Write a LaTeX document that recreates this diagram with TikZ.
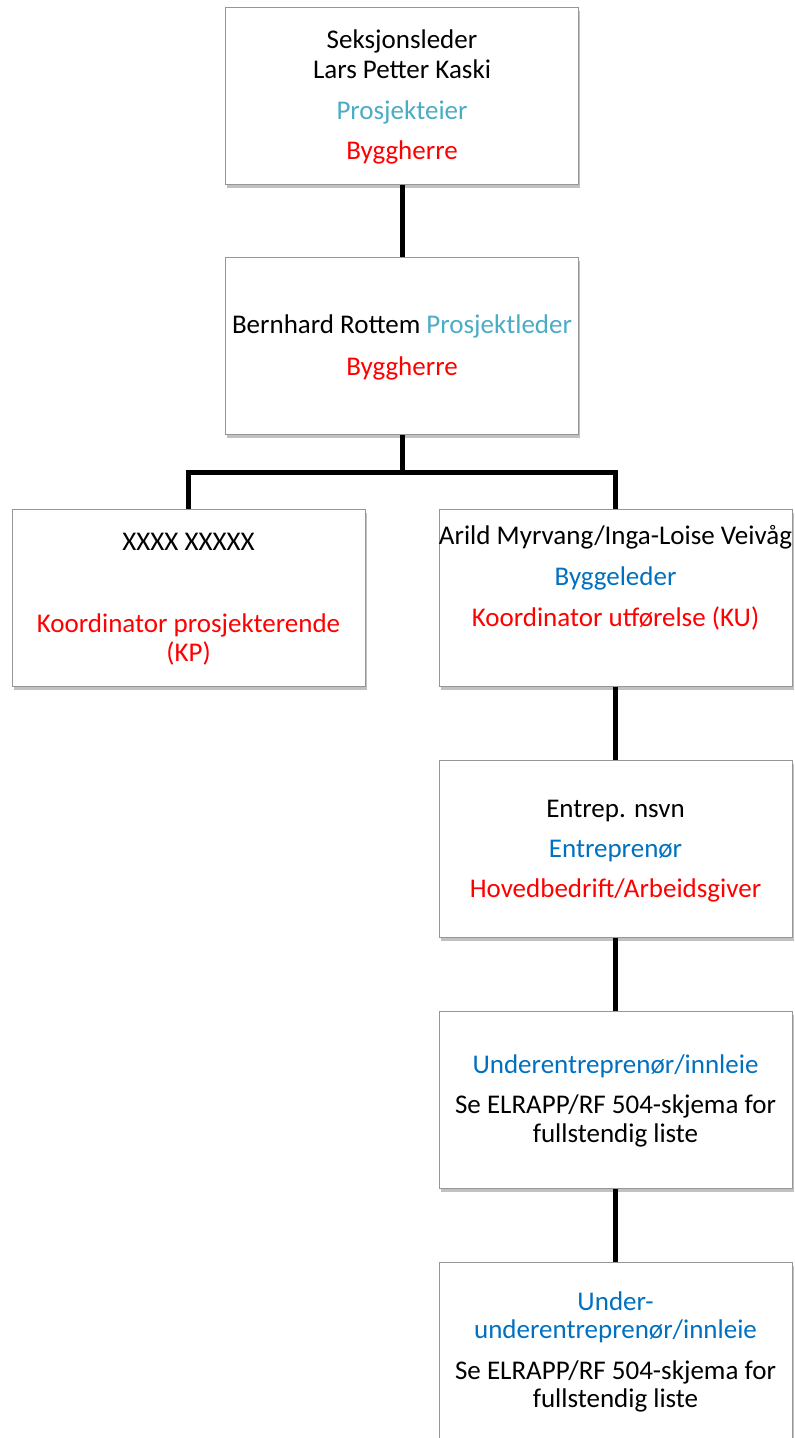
\documentclass[tikz,border=0pt]{standalone}
\usepackage{fontspec}
\setmainfont{Carlito}
\usetikzlibrary{shadows}
\definecolor{boxline}{RGB}{150,150,150}
\definecolor{cyantxt}{RGB}{75,172,198}
\definecolor{bluetxt}{RGB}{0,112,192}
\definecolor{redtxt}{RGB}{255,0,0}
\begin{document}
\begin{tikzpicture}[x=1pt,y=-1pt,
  orgbox/.style={draw=boxline, line width=1pt, fill=white, minimum width=353pt, minimum height=177pt, inner sep=0pt,
    drop shadow={shadow xshift=1.5pt, shadow yshift=-3.5pt, opacity=0.35, fill=black!70}},
  txt/.style={anchor=base, inner sep=0pt, font=\fontsize{27}{31}\selectfont},
  conn/.style={line width=5pt, draw=black, line join=miter}]
\useasboundingbox (0,0) rectangle (795,1438);
\node[orgbox] (b1) at (402,95.5) {};
\node[orgbox] (b2) at (402,346) {};
\node[orgbox] (b3l) at (188.5,597.5) {};
\node[orgbox] (b3r) at (615.5,597.5) {};
\node[orgbox] (b4) at (615.5,849) {};
\node[orgbox] (b5) at (615.5,1099.5) {};
\node[orgbox] (b6) at (615.5,1350.5) {};
\coordinate (j) at (402,472);
\draw[conn] (b1.south) -- (b2.north);
\draw[conn] (b2.south) -- (j);
\draw[conn] (b3l.north) |- (j) -| (b3r.north);
\draw[conn] (b3r.south) -- (b4.north);
\draw[conn] (b4.south) -- (b5.north);
\draw[conn] (b5.south) -- (b6.north);
% box 1
\node[txt] (t1a) at (402,48) {Seksjonsleder};
\node[txt] (t1b) at (402,78) {Lars Petter Kaski};
\node[txt, text=cyantxt] (t1c) at (402,119) {Prosjekteier};
\node[txt, text=redtxt] (t1d) at (402,159) {Byggherre};
% box 2
\node[txt] (t2a) at (402,333) {Bernhard Rottem \textcolor{cyantxt}{Prosjektleder}};
\node[txt, text=redtxt] (t2b) at (402,375) {Byggherre};
% box 3 left
\node[txt] (t3a) at (188.5,550) {XXXX XXXXX};
\node[txt, text=redtxt] (t3b) at (188.5,632) {Koordinator prosjekterende};
\node[txt, text=redtxt] (t3c) at (188.5,661) {(KP)};
% box 3 right
\node[txt] (t4a) at (615.5,544) {Arild Myrvang/Inga-Loise Veivåg};
\node[txt, text=bluetxt] (t4b) at (615.5,585) {Byggeleder};
\node[txt, text=redtxt] (t4c) at (615.5,626) {Koordinator utførelse (KU)};
% box 4
\node[txt] (t5a) at (615.5,817) {Entrep. nsvn};
\node[txt, text=bluetxt] (t5b) at (615.5,857) {Entreprenør};
\node[txt, text=redtxt] (t5c) at (615.5,897) {Hovedbedrift/Arbeidsgiver};
% box 5
\node[txt, text=bluetxt] (t6a) at (615.5,1073) {Underentreprenør/innleie};
\node[txt] (t6b) at (615.5,1113) {Se ELRAPP/RF 504-skjema for};
\node[txt] (t6c) at (615.5,1142) {fullstendig liste};
% box 6
\node[txt, text=bluetxt] (t7a) at (615.5,1310) {Under-};
\node[txt, text=bluetxt] (t7b) at (615.5,1338) {underentreprenør/innleie};
\node[txt] (t7c) at (615.5,1379) {Se ELRAPP/RF 504-skjema for};
\node[txt] (t7d) at (615.5,1407) {fullstendig liste};
\end{tikzpicture}
\end{document}
